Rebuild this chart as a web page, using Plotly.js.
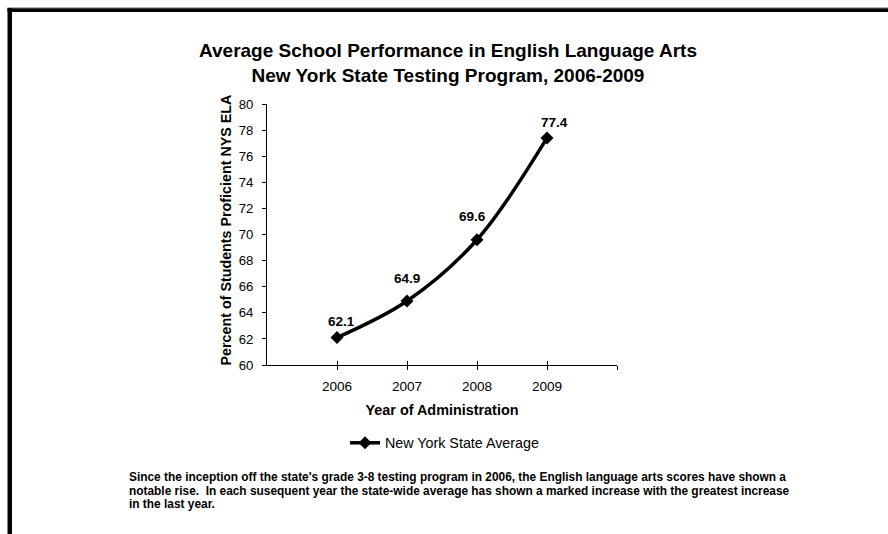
<!DOCTYPE html>
<html>
<head>
<meta charset="utf-8">
<script src="https://cdn.plot.ly/plotly-3.0.1.min.js"></script>
<style>
  html, body { margin: 0; padding: 0; background: #ffffff; }
  #chart { width: 888px; height: 534px; }
</style>
</head>
<body>
<div id="chart"></div>
<script>
// Data
const years = [2006, 2007, 2008, 2009];
const yearLabels = ['2006', '2007', '2008', '2009'];
const stateAverage = [62.1, 64.9, 69.6, 77.4];
const seriesName = 'New York State Average';

const chartTitle = 'Average School Performance in English Language Arts<br>New York State Testing Program, 2006-2009';
const xTitle = 'Year of Administration';
const yTitle = 'Percent of Students Proficient NYS ELA';
const noteLines = [
  "Since the inception off the state's grade 3-8 testing program in 2006, the English language arts scores have shown a",
  "notable rise.  In each susequent year the state-wide average has shown a marked increase with the greatest increase",
  "in the last year."
];

// Geometry of the plot area (pixels)
const W = 888, H = 534;
const M = { l: 267, r: 271, t: 104, b: 169 };
const plotW = W - M.l - M.r;
const plotH = H - M.t - M.b;
const px = x => (x - M.l) / plotW;
const py = y => (H - M.b - y) / plotH;

const FONT = 'Arial, "Liberation Sans", Helvetica, sans-serif';

// Label nudges relative to each point (pixels)
const labelShift = [[4, 16], [0, 23], [-5, 23], [7, 15]];

const trace = {
  type: 'scatter',
  mode: 'lines+markers',
  x: years,
  y: stateAverage,
  name: seriesName,
  line: { color: '#000000', width: 3.5, shape: 'spline', smoothing: 1 },
  marker: { symbol: 'diamond', size: 10, color: '#000000' },
  hoverinfo: 'x+y'
};

// Invisible companion trace so the inner-tick axis is drawn
const tickTrace = {
  type: 'scatter', mode: 'markers', x: [2005], y: [60],
  xaxis: 'x2', yaxis: 'y', showlegend: false, hoverinfo: 'skip',
  marker: { opacity: 0 }
};

const valueLabels = years.map((yr, i) => ({
  x: yr, y: stateAverage[i], xref: 'x', yref: 'y',
  text: stateAverage[i].toFixed(1),
  showarrow: false,
  xshift: labelShift[i][0], yshift: labelShift[i][1],
  font: { family: FONT, size: 13.5, color: '#000000', weight: 700 }
}));

// Vertical axis title
const yTitleAnn = {
  xref: 'paper', yref: 'paper',
  x: px(225.5), y: py(230), xanchor: 'center', yanchor: 'middle',
  textangle: -90, showarrow: false,
  text: yTitle,
  font: { family: FONT, size: 14.3, color: '#000000', weight: 700 }
};

// Footnote, one annotation per line for tight line spacing
const noteCenters = [477, 491, 504.5];
const noteAnns = noteLines.map((line, i) => ({
  xref: 'paper', yref: 'paper',
  x: px(127), y: py(noteCenters[i]), xanchor: 'left', yanchor: 'middle', align: 'left',
  showarrow: false,
  text: line,
  font: { family: FONT, size: 11.9, color: '#000000', weight: 700 }
}));

const frameShapes = [
  { type: 'rect', xref: 'paper', yref: 'paper', x0: px(7.5), x1: px(888), y0: py(7), y1: py(8.3),
    fillcolor: '#b4b4b4', line: { width: 0 } },
  { type: 'rect', xref: 'paper', yref: 'paper', x0: px(7.5), x1: px(888), y0: py(8.3), y1: py(12),
    fillcolor: '#000000', line: { width: 0 } },
  { type: 'rect', xref: 'paper', yref: 'paper', x0: px(7.5), x1: px(12), y0: py(8.3), y1: py(534),
    fillcolor: '#000000', line: { width: 0 } }
];

const layout = {
  width: W, height: H,
  margin: M,
  paper_bgcolor: '#ffffff',
  plot_bgcolor: '#ffffff',
  font: { family: FONT, color: '#000000' },
  title: {
    text: chartTitle,
    font: { family: FONT, size: 19, color: '#000000', weight: 700 },
    x: 448 / W, xref: 'container', xanchor: 'center',
    y: 1 - 57 / H, yref: 'container', yanchor: 'top'
  },
  xaxis: {
    range: [2005, 2010],
    tickmode: 'array',
    tickvals: [2006, 2007, 2008, 2009, 2010],
    ticktext: yearLabels.concat(['']),
    ticks: 'outside', ticklen: 4, tickwidth: 1, tickcolor: '#000000',
    showline: true, linecolor: '#000000', linewidth: 1,
    showgrid: false, zeroline: false,
    tickfont: { family: FONT, size: 13.6, color: '#000000' },
    ticklabelstandoff: 5,
    title: { text: xTitle, font: { family: FONT, size: 14.4, color: '#000000', weight: 700 }, standoff: 11 },
    fixedrange: true
  },
  xaxis2: {
    overlaying: 'x', anchor: 'y', side: 'bottom',
    range: [2005, 2010],
    tickmode: 'array',
    tickvals: [2006, 2007, 2008, 2009, 2010],
    ticks: 'inside', ticklen: 4, tickwidth: 1, tickcolor: '#000000',
    showticklabels: false, showline: false, showgrid: false, zeroline: false,
    fixedrange: true
  },
  yaxis: {
    range: [60, 80],
    tickmode: 'linear', tick0: 60, dtick: 2,
    ticks: 'outside', ticklen: 4, tickwidth: 1, tickcolor: '#000000',
    showline: true, linecolor: '#000000', linewidth: 1,
    showgrid: false, zeroline: false,
    tickfont: { family: FONT, size: 13.2, color: '#000000' },
    ticklabelstandoff: 6,
    fixedrange: true
  },
  showlegend: true,
  legend: {
    orientation: 'h',
    x: px(345), y: py(427), xanchor: 'left', yanchor: 'top',
    font: { family: FONT, size: 14.3, color: '#000000' },
    bgcolor: 'rgba(0,0,0,0)'
  },
  annotations: valueLabels.concat([yTitleAnn]).concat(noteAnns),
  shapes: frameShapes
};

Plotly.newPlot('chart', [trace, tickTrace], layout, { displayModeBar: false });
</script>
</body>
</html>
